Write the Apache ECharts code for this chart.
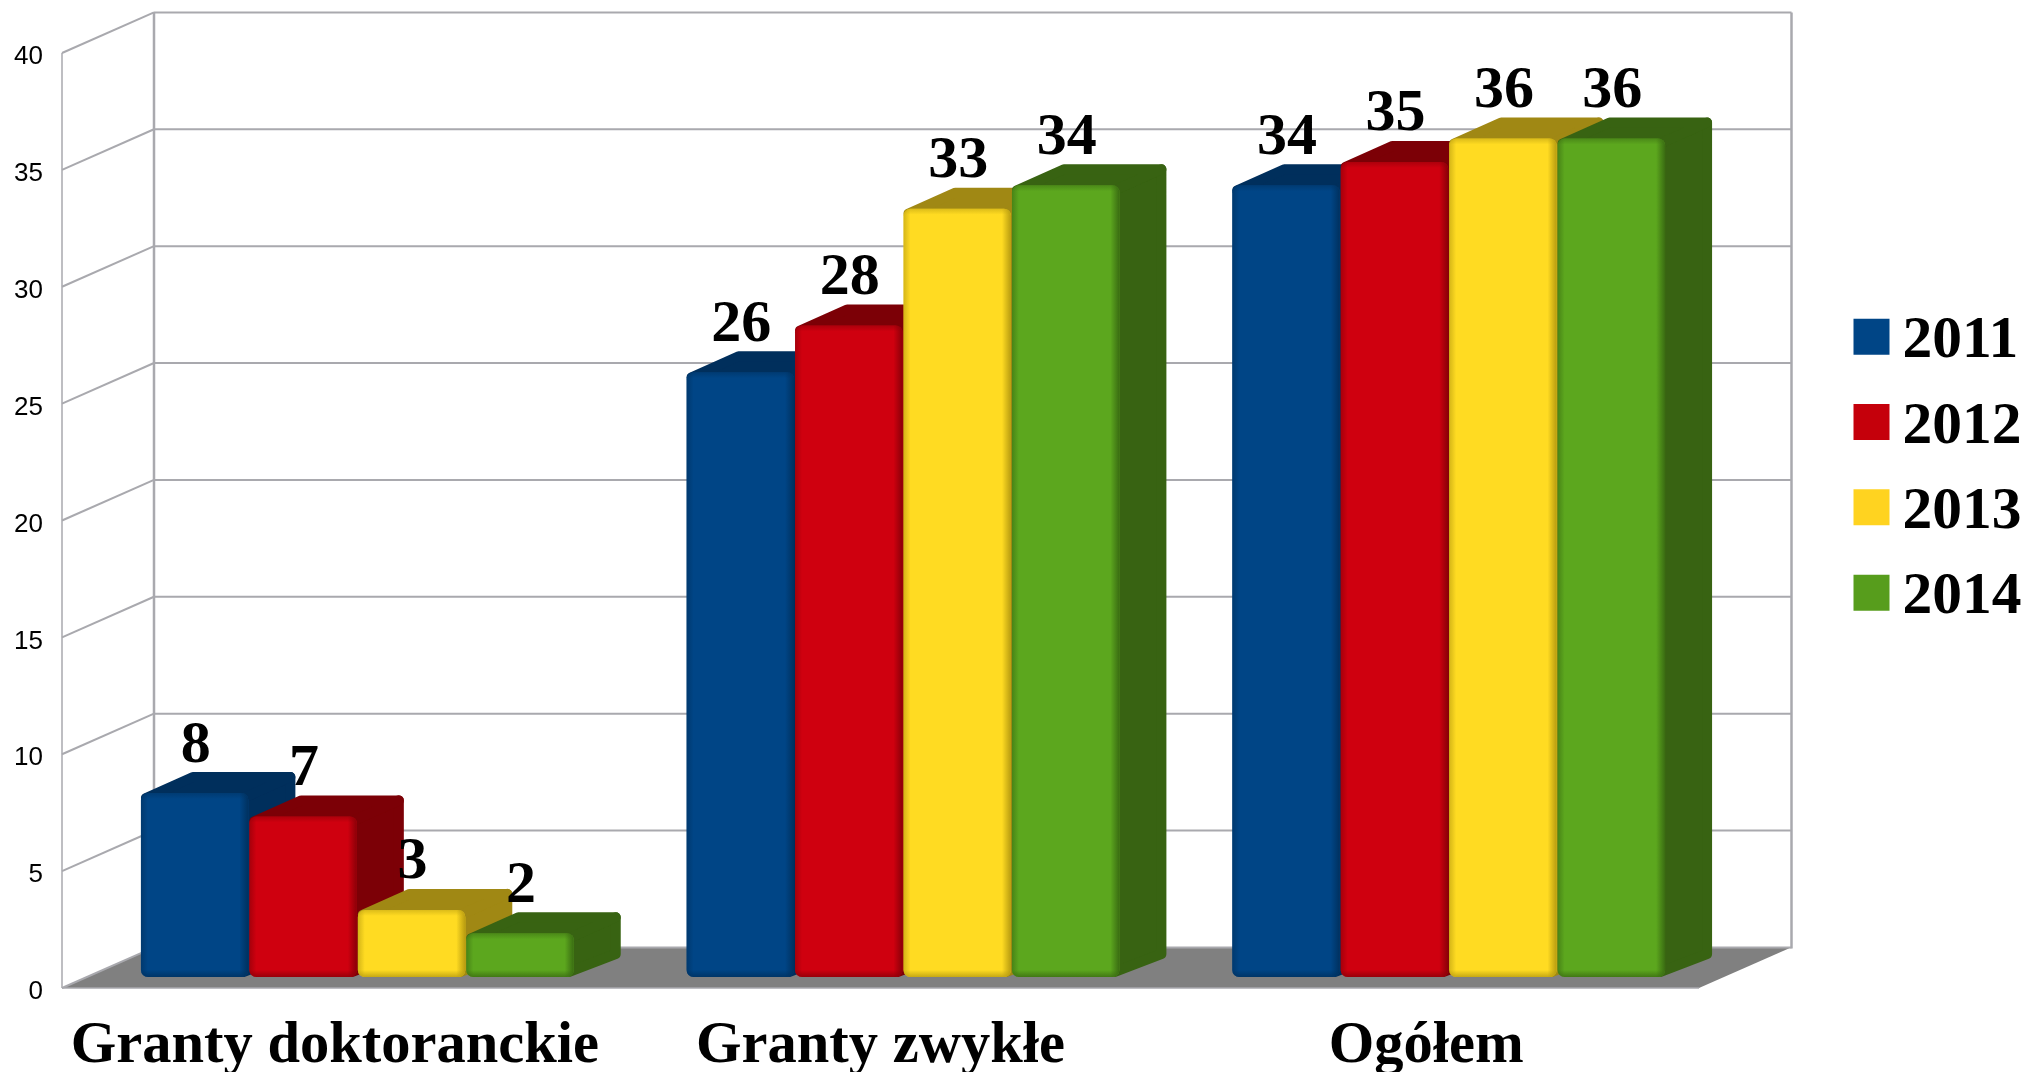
<!DOCTYPE html>
<html><head><meta charset="utf-8">
<style>html,body{margin:0;padding:0;background:#fff}#c{width:2027px;height:1072px}</style>
<script src="https://cdn.jsdelivr.net/npm/echarts@6/dist/echarts.min.js"></script>
</head><body><div id="c"></div>
<script>
const categories = ['Granty doktoranckie', 'Granty zwykłe', 'Ogółem'];
const years = ['2011', '2012', '2013', '2014'];
const v2011 = [8, 26, 34];
const v2012 = [7, 28, 35];
const v2013 = [3, 33, 36];
const v2014 = [2, 34, 36];
const yTicks = [0, 5, 10, 15, 20, 25, 30, 35, 40];

const seriesValues = [v2011, v2012, v2013, v2014];
const frontColors = ['#004586', '#cf000f', '#ffdb22', '#5ca71e'];
const edgeColors = ['#00315f', '#8a0008', '#b89c10', '#3a6c12'];
const sideColors = ['#002f5c', '#7c0006', '#a08814', '#386312'];
const legendColors = ['#004586', '#c5000b', '#ffd320', '#579d1c'];

const WALL_DX = 92, WALL_DY = -40.6, BAR_DX = 47, BAR_DY = -21, OFF_DX = 23, OFF_DY = -10;
const SERIF = '"Liberation Serif", serif';

function renderWalls(params, api) {
  const cs = params.coordSys, t = api.value(0), y = api.coord([0, t])[1];
  const left = cs.x, right = cs.x + cs.width, bottom = cs.y + cs.height, top = cs.y;
  const kids = [];
  const ln = (x1, y1, x2, y2, w) => ({type: 'line', shape: {x1, y1, x2, y2},
    style: {stroke: '#a9a9ae', lineWidth: w}});
  if (params.dataIndex === 0) {
    kids.push({type: 'polygon', shape: {points: [[left, bottom], [right, bottom],
      [right + WALL_DX, bottom + WALL_DY], [left + WALL_DX, bottom + WALL_DY]]}, style: {fill: '#808080'}});
    kids.push(ln(left, top, left, bottom, 1.5));
    kids.push(ln(left + WALL_DX, top + WALL_DY, left + WALL_DX, bottom + WALL_DY, 2.5));
    kids.push(ln(right + WALL_DX + 0.5, top + WALL_DY, right + WALL_DX + 0.5, bottom + WALL_DY + 1, 2.5));
    kids.push(ln(left, bottom, right, bottom, 1.5));
  }
  kids.push(ln(left, y, left + WALL_DX, y + WALL_DY, 2));
  kids.push(ln(left + WALL_DX, y + WALL_DY, right + WALL_DX + 0.5, y + WALL_DY, 2));
  return {type: 'group', children: kids};
}

function makeRender(si) {
  return function (params, api) {
    const c = api.coord([api.value(0), api.value(1)]);
    const base = api.coord([api.value(0), 0]);
    const band = api.size([1, 0])[0];
    const slot = band * 0.795 / 4;
    const xl = c[0] + OFF_DX - 2 * slot + si * slot;
    const w = slot - 1;
    const xr = xl + w;
    const top = c[1] + OFF_DY + 2;
    const bot = base[1] + OFF_DY - 1;
    const side = sideColors[si], f = frontColors[si], e = edgeColors[si];
    const inset = 5;
    const round = (pts, col) => ({type: 'polygon', shape: {points: pts},
      style: {fill: col, stroke: col, lineWidth: inset * 2, lineJoin: 'round'}});
    const grad = (x, y, x2, y2, col, a) => ({type: 'linear', x, y, x2, y2, colorStops: [
      {offset: 0, color: col + a}, {offset: 1, color: col + '00'}]});
    return {type: 'group', children: [
      round([[xr - inset, top + inset], [xr + BAR_DX - inset, top + BAR_DY + inset],
             [xr + BAR_DX - inset, bot + BAR_DY - inset * 0.4], [xr - inset, bot - inset]], side),
      round([[xl + inset, top + inset], [xl + BAR_DX + inset, top + BAR_DY + inset],
             [xr + BAR_DX - inset, top + BAR_DY + inset], [xr - inset, top + inset]], side),
      {type: 'rect', shape: {x: xl, y: top, width: w, height: bot - top, r: 7}, style: {fill: f}},
      {type: 'rect', shape: {x: xl, y: top, width: 7, height: bot - top, r: [7, 0, 0, 7]},
        style: {fill: grad(0, 0, 1, 0, e, '99')}},
      {type: 'rect', shape: {x: xr - 9, y: top, width: 9, height: bot - top, r: [0, 7, 7, 0]},
        style: {fill: grad(1, 0, 0, 0, e, 'ff')}},
      {type: 'rect', shape: {x: xl, y: top, width: w, height: 6, r: [7, 7, 0, 0]},
        style: {fill: grad(0, 0, 0, 1, e, '80')}},
      {type: 'rect', shape: {x: xl, y: bot - 7, width: w, height: 7, r: [0, 0, 7, 7]},
        style: {fill: grad(0, 1, 0, 0, e, 'cc')}},
      {type: 'text', z2: 5, style: {text: String(api.value(1)), x: xl + w / 2 + 1, y: top - 47,
        fill: '#000', font: 'bold 60px ' + SERIF, align: 'center', verticalAlign: 'middle'}}
    ]};
  };
}

const chart = echarts.init(document.getElementById('c'), null, {renderer: 'canvas'});
chart.setOption({
  animation: false,
  backgroundColor: '#fff',
  grid: {left: 62, top: 53, width: 1637, height: 935, containLabel: false, outerBoundsMode: 'none'},
  legend: {
    orient: 'vertical', left: 1853.5, top: 312, padding: 0, itemWidth: 36, itemHeight: 36, itemGap: 25.3,
    selectedMode: false,
    formatter: n => '{a|' + n + '}',
    textStyle: {padding: [10.5, 0, 0, 8],
      rich: {a: {fontFamily: SERIF, fontWeight: 'bold', fontSize: 59.5, color: '#000', lineHeight: 60}}},
    data: years.map((y, i) => ({name: y, icon: 'rect', itemStyle: {color: legendColors[i]}}))
  },
  xAxis: {
    type: 'category', data: categories,
    axisLine: {show: false}, axisTick: {show: false}, splitLine: {show: false},
    axisLabel: {interval: 0, margin: 29, color: '#000', fontFamily: SERIF, fontWeight: 'bold', fontSize: 58.5}
  },
  yAxis: {
    type: 'value', min: 0, max: 40, interval: 5,
    axisLine: {show: false}, axisTick: {show: false}, splitLine: {show: false},
    axisLabel: {margin: 19, verticalAlign: 'top', lineHeight: 8, color: '#000', fontFamily: '"Liberation Sans", sans-serif', fontSize: 26}
  },
  series: [
    {type: 'custom', name: 'walls', z: 1, clip: false, silent: true,
     renderItem: renderWalls, data: yTicks.map(t => [t]), encode: {y: 0}, tooltip: {show: false}}
  ].concat(years.map((y, si) => ({
    type: 'custom', name: y, z: 2 + si, clip: false,
    itemStyle: {color: legendColors[si]},
    renderItem: makeRender(si),
    encode: {x: 0, y: 1},
    data: seriesValues[si].map((v, i) => [i, v])
  })))
});
</script></body></html>
